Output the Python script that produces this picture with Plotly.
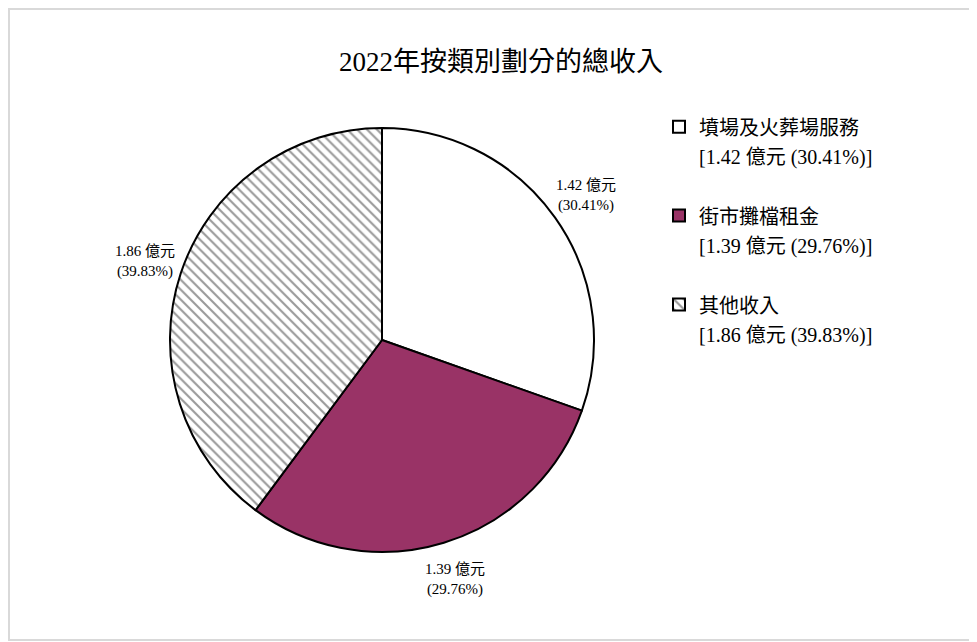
import math
import plotly.graph_objects as go

categories = ["墳場及火葬場服務", "街市攤檔租金", "其他收入"]
values = [1.42, 1.39, 1.86]
percents = [30.41, 29.76, 39.83]
title_text = "2022年按類別劃分的總收入"

W, H = 977, 642
FONT = "Liberation Serif, Times New Roman, Noto Sans CJK TC, serif"

# pie geometry in pixels (page body adds an 8px offset)
CX, CY, R = 374, 332, 212

slice_text = ["%.2f 億元<br>(%.2f%%)" % (v, p) for v, p in zip(values, percents)]
legend_labels = ["<span style='font-size:20px'>%s<br>[%.2f 億元 (%.2f%%)]</span><br> " % (c, v, p)
                 for c, v, p in zip(categories, values, percents)]

fig = go.Figure()
fig.add_trace(go.Pie(
    labels=legend_labels,
    values=values,
    textinfo="none",
    sort=False,
    direction="clockwise",
    rotation=0,
    marker=dict(
        colors=["#ffffff", "#993366", "#ffffff"],
        line=dict(color="#000000", width=2),
        pattern=dict(shape=["", "", "\\"], fgcolor="#9a9a9a", bgcolor="#ffffff",
                     size=7, solidity=0.3),
    ),
    domain=dict(x=[(CX - R) / W, (CX + R) / W], y=[1 - (CY + R) / H, 1 - (CY - R) / H]),
    hoverinfo="skip",
))

# data labels placed along each slice's middle angle, a bit outside the rim
total = sum(values)
acc = 0
for v, t in zip(values, slice_text):
    mid = (acc + v / 2) / total * 2 * math.pi
    acc += v
    px = CX + 1.18 * R * math.sin(mid)
    py = CY - 1.18 * R * math.cos(mid)
    fig.add_annotation(x=px / W, y=1 - py / H, xref="paper", yref="paper",
                       xanchor="center", yanchor="middle",
                       text=t, showarrow=False, align="center",
                       font=dict(family=FONT, size=15, color="#000000"))

# light grey frame around the picture
fig.add_shape(type="rect", xref="paper", yref="paper",
              x0=1 / W, x1=967 / W, y0=1 - 632 / H, y1=1 - 1 / H,
              line=dict(color="#d9d9d9", width=2), fillcolor="rgba(0,0,0,0)")

fig.update_layout(
    width=W,
    height=H,
    margin=dict(l=0, r=0, t=0, b=0),
    paper_bgcolor="#ffffff",
    plot_bgcolor="#ffffff",
    title=dict(text=title_text, x=493 / W, xanchor="center", y=1 - 54 / H, yanchor="middle",
               font=dict(family=FONT, size=27, color="#000000")),
    showlegend=True,
    legend=dict(
        x=651 / W, y=1 - 98 / H, xanchor="left", yanchor="top",
        font=dict(family=FONT, size=22, color="#000000"),
        valign="top",
        itemwidth=30,
        traceorder="normal",
    ),
)

fig.write_html("out.html")
